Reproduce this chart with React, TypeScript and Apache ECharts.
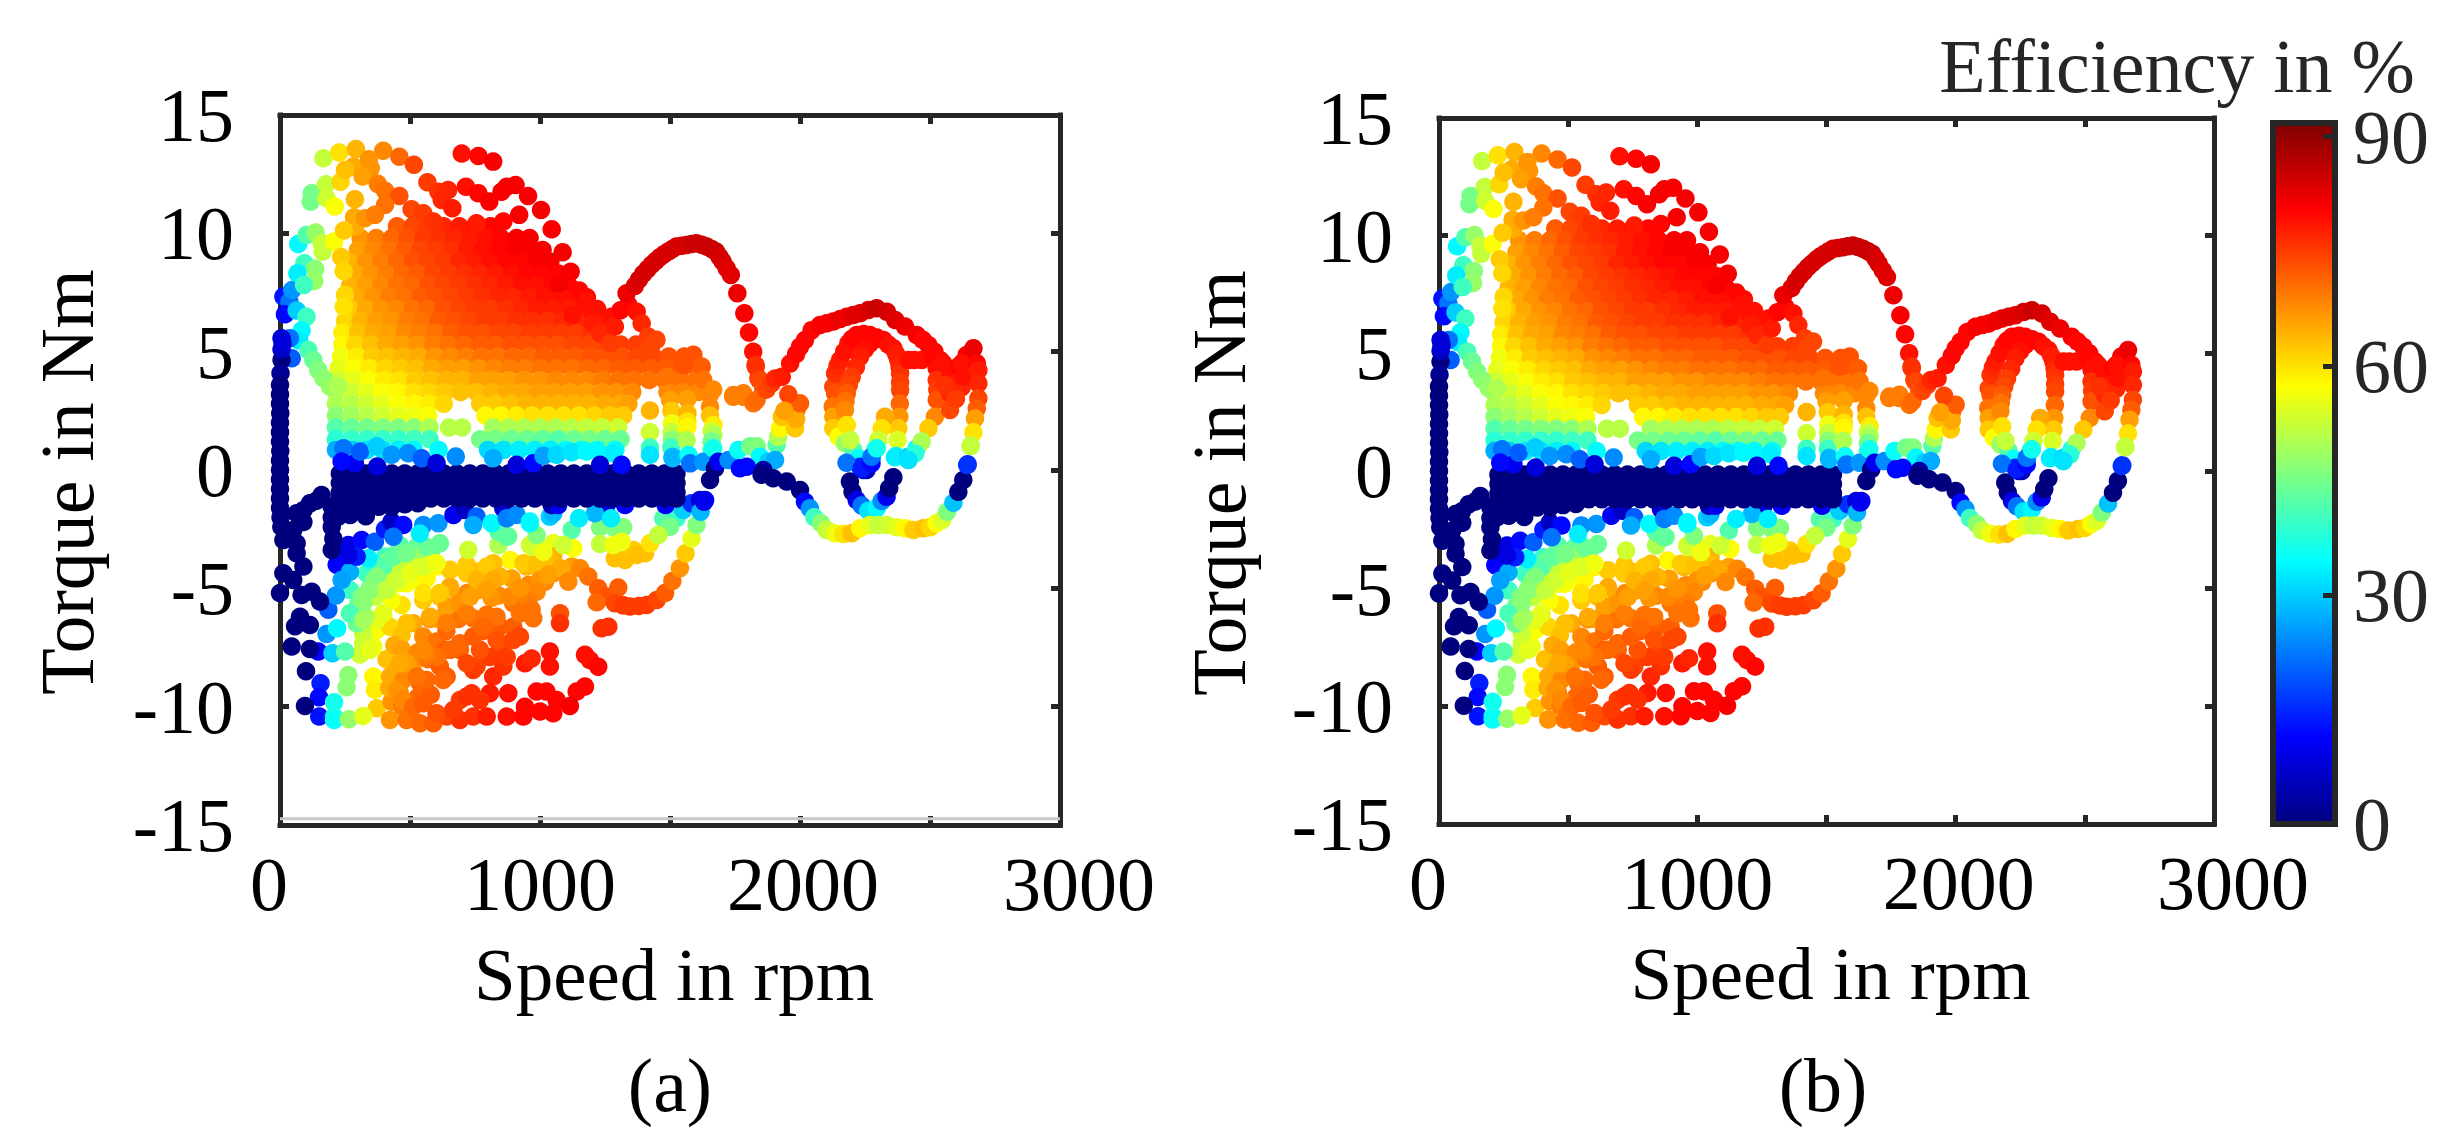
import React, { useEffect, useRef } from "react";
import * as echarts from "echarts";

type Pt = [number, number, number];
type Row = [number, number[], number[]];

const SERIF = '"Liberation Serif"';
const jetColors = ["#00007f", "#0000ff", "#007fff", "#00ffff", "#7fff7f", "#ffff00", "#ff7f00", "#ff0000", "#7f0000"];
const xTickLabels = [0, 1000, 2000, 3000];
const barTickValues = [0, 30, 60, 90];

// torque rows through the dark low-efficiency band
const navyBandTorques = [-0.15, -0.55, -0.95, -1.2];
const navyBandSpeeds = [230, 280, 330, 380, 430, 480, 530, 580, 630, 680, 730, 780, 830, 880, 930, 980, 1030, 1080, 1130, 1180, 1230, 1280, 1330, 1380, 1430, 1480, 1525];
const navyLowerExtra: Pt[] = [[230,-1.6,0],[280,-1.65,0],[330,-1.7,0],[380,-1.55,0],[430,-1.55,0],[480,-1.45,0],[530,-1.4,0],[230,-1.85,0],[270,-1.9,0],[330,-1.95,0]];

const lowSpeedColumn: Pt[] = [[6,4.65,0],[2,4.09,2],[0,3.6,0],[0,3.2,0],[0,2.8,0],[1,2.4,0],[0,2,0],[0,1.6,0],[0,1.2,0],[1,0.8,0],[0,0.4,0],[0,0,0],[0,-0.4,0],[0,-0.8,0],[0,-1.2,0],[0,-1.6,0],[2,-2,0],[5,-2.4,0],[13,-2.96,0],[51,-2.53,0],[64,-1.83,0],[64,-3.1,0],[64,-3.52,0],[90,-2.2,0],[115,-1.41,0],[160,-1.06,0],[140,-1.3,0],[90,-1.7,0],[199,-1.55,0],[199,-2.0,0],[224,-1.97,0],[199,-2.4,0],[205,-2.9,0],[199,-3.38,0],[90,-4.08,0],[13,-4.36,0],[51,-4.65,0],[0,-5.2,0],[83,-5.28,0],[122,-5.14,0],[154,-5.56,0],[77,-6.2,0],[115,-6.55,0],[58,-6.6,0],[45,-7.46,0],[115,-7.56,0],[100,-8.5,0],[96,-9.97,0],[6,5.1,6],[10,5.35,8]];

const upperLeftChain: Pt[] = [[13,7.33,13],[36,7.12,22],[47,7.61,25],[19,6.58,12],[64,6.74,30],[102,6.48,40],[83,5.89,34],[74,5.47,33],[38,5.57,22],[45,4.72,20],[6,5.57,8],[70,9.55,34],[102,9.93,42],[137,10.03,48],[160,9.58,52],[164,9.23,52],[208,9.65,57],[94,8.74,40],[135,8.5,47],[67,8.31,33],[132,7.99,48],[92,7.82,40],[122,11.69,45],[118,11.34,45],[167,13.17,52],[228,13.42,60],[292,13.56,64],[397,13.49,68],[459,13.24,71],[515,12.9,74],[699,13.37,79],[763,13.27,80],[820,13.03,81],[177,12.07,52],[179,11.48,53],[211,11.13,57],[233,12.18,61],[282,12.82,65],[250,12.68,63],[342,13.13,67],[349,12.75,67],[318,12.4,66],[288,11.44,64],[376,12.09,69],[404,11.8,70],[459,11.58,73],[404,11.2,70],[285,10.68,65],[288,10.28,65],[246,10.12,62],[327,10.64,67],[365,10.78,69],[506,11.02,74],[551,10.85,75],[590,10.5,76],[567,12.16,75],[609,11.76,76],[647,11.83,77],[622,11.41,77],[663,11.06,78],[715,11.97,79],[763,11.69,80],[805,11.34,81],[852,11.76,81],[872,11.97,81],[906,12.04,81],[954,11.58,81],[1004,10.99,81],[1045,10.17,81],[1087,9.2,81],[859,10.5,80],[920,10.78,81],[756,10.43,78],[1118,8.38,81],[1151,7.58,80],[1179,7.12,79],[1202,6.69,79],[1125,6.55,79],[1073,7.89,81],[109,5.07,41],[128,4.65,44],[147,4.23,46],[167,3.88,47],[192,3.53,48],[224,3.53,50],[235,9,62],[245,8.4,61],[250,7.4,61],[245,6.9,60]];

const blobRows: Row[] = [
  [10.3, [450,510,570,630,690,750,810], [72,74,75,77,78,79,80]],
  [9.8, [310,370,430,490,550,610,670,730,790,850,910,960], [67,69,71,73,75,76,77,78,79,80,81,81]],
  [9.3, [300,360,420,480,540,600,660,720,780,840,900,960,1010], [66,68,70,72,74,75,76,78,79,80,81,81,81]],
  [8.8, [270,330,390,450,510,570,630,690,750,810,870,930,990,1040], [64,67,69,71,73,74,75,77,78,79,80,80,81,81]],
  [8.3, [290,350,410,470,530,590,650,710,770,830,890,950,1010,1070], [65,67,69,71,72,74,75,76,77,78,79,80,80,80]],
  [7.8, [270,330,390,450,510,570,630,690,750,810,870,930,990,1050,1110], [64,66,68,70,71,73,74,75,76,77,78,79,79,80,80]],
  [7.3, [300,360,420,480,540,600,660,720,780,840,900,960,1020,1080,1140,1180], [65,67,69,70,72,73,74,75,76,77,77,78,79,79,79,80]],
  [6.8, [270,330,390,450,510,570,630,690,750,810,870,930,990,1050,1110,1170,1220], [62,65,67,68,70,71,73,74,75,75,76,77,78,78,78,79,79]],
  [6.3, [250,310,370,430,490,550,610,670,730,790,850,910,970,1030,1090,1150,1210,1270], [61,64,66,67,69,70,72,73,74,75,75,76,76,76,77,77,78,78]],
  [5.8, [240,300,360,420,480,540,600,660,720,780,840,900,960,1020,1080,1140,1200,1260], [59,63,65,66,68,69,70,72,73,73,74,74,75,75,75,75,76,76]],
  [5.3, [240,290,350,410,470,530,590,650,710,770,830,890,950,1010,1070,1130,1190,1250,1310,1370,1430], [58,61,63,65,66,67,69,70,71,72,72,73,73,73,73,74,74,74,75,75,75]],
  [4.8, [235,295,355,415,475,535,595,655,715,775,835,895,955,1015,1075,1135,1195,1255,1315,1375,1435,1495,1555], [56,59,62,63,64,65,67,68,69,70,70,71,71,72,72,72,73,73,73,74,74,73,73]],
  [4.3, [225,285,345,405,465,525,585,645,705,765,825,885,945,1005,1065,1125,1185,1245,1305,1365,1425,1485,1545,1605], [55,57,59,61,62,63,65,66,66,67,68,69,69,70,70,70,71,71,72,72,72,72,72,72]],
  [3.8, [220,280,340,400,460,520,580,640,700,760,820,880,940,1000,1060,1120,1180,1240,1300,1360,1420,1480,1540,1600], [53,55,57,59,60,62,63,64,64,66,66,66,67,67,68,68,68,69,70,70,70,70,70,70]],
  [3.3, [215,275,335,395,455,515,575,635,695,755,815,875,935,995,1055,1115,1175,1235,1295,1355,1490,1550,1610], [51,53,55,57,58,60,61,62,63,63,64,65,65,66,66,66,66,67,67,68,68,68,68]],
  [2.8, [215,275,335,395,455,515,575,630,770,830,890,950,1010,1070,1130,1190,1250,1310,1340], [50,51,53,55,57,58,59,61,62,62,63,64,64,64,64,64,65,65,66]],
  [2.3, [215,275,335,395,455,515,570,790,850,910,970,1030,1090,1150,1210,1270,1320], [47,49,51,53,55,56,57,58,58,59,60,60,60,60,61,62,62]],
  [1.8, [215,275,335,395,455,515,575,650,700,820,880,940,1000,1060,1120,1180,1240,1300], [42,44,45,46,46,47,50,51,51,49,50,50,50,50,51,52,52,53]],
  [1.3, [215,275,335,395,455,515,575,770,830,890,950,1010,1070,1130,1190,1250,1310], [38,39,39,39,39,40,40,45,45,44,44,43,42,44,45,44,44]],
  [0.85, [215,275,335,395,455,515,610,800,860,920,980,1040,1100,1160,1220,1290], [27,30,32,32,33,34,34,31,32,33,33,33,34,34,34,34]],
];

const blueEdgeUpper: Pt[] = [[244,0.92,22],[288,0.29,10],[237,0.36,12],[374,0.15,8],[308,0.78,20],[372,1,30],[429,0.64,25],[493,0.71,24],[545,0.5,20],[602,0.29,8],[676,0.57,24],[820,0.5,27],[910,0.22,8],[974,0.29,12],[1013,0.6,26],[1064,0.64,31],[1122,0.75,32],[1179,0.78,34],[1282,0.71,33],[1231,0.22,8],[1314,0.22,12],[1423,0.64,32],[1510,0.5,28],[1571,0.63,35],[1577,0.28,22],[1628,0.35,25],[1666,0.92,36],[1673,0.07,0],[1654,-0.42,0],[1635,-1.27,10],[1686,0.35,10],[1725,0.42,24],[1763,0.85,35],[1808,1,45],[1834,1,46],[1846,0.56,34],[1878,0.35,30],[1904,0.42,27],[1769,0.07,12],[1795,0.14,12],[1859,0,3],[1852,-0.2,0],[1897,-0.35,0],[1949,-0.49,0],[2000,-0.85,0],[2019,-1.34,12],[2038,-1.62,25],[2055,-2,40],[2081,-2.25,47],[2102,-2.53,52],[2134,-2.67,56],[2167,-2.7,60],[2199,-2.67,63],[2231,-2.46,58],[2269,-2.32,55],[2301,-2.32,52],[2333,-2.32,53],[2372,-2.42,55],[2404,-2.46,58],[2436,-2.53,62],[2474,-2.46,63],[2500,-2.42,61],[2525,-2.25,57],[2547,-2.11,54],[2566,-1.76,46],[2590,-1.38,29],[2609,-0.92,0],[2628,-0.42,0],[2643,0.21,16],[2656,1.01,52]];

const humpCurve: Pt[] = [[1205,6.2,78],[1231,5.78,77],[1269,5.36,75],[1275,6.48,79],[1288,6.06,78],[1310,6.75,80],[1340,6.98,80],[1372,6.69,79],[1391,6.2,77],[1416,5.64,75],[1448,5.5,74],[1423,5.2,74],[1333,7.47,82],[1365,7.78,83],[1381,8.05,84],[1397,8.29,84],[1413,8.48,84],[1429,8.67,84],[1445,8.83,84],[1461,8.99,84],[1477,9.12,84],[1493,9.23,84],[1509,9.34,84],[1525,9.44,84],[1545,9.48,84],[1564,9.51,84],[1583,9.55,85],[1602,9.58,85],[1622,9.52,85],[1641,9.44,85],[1660,9.34,85],[1677,9.23,85],[1690,9.02,84],[1702,8.81,84],[1718,8.52,83],[1734,8.24,83],[1759,7.47,82],[1786,6.62,81],[1804,5.81,80],[1820,5,79],[1829,4.44,76],[1840,3.88,75]];

const midChain: Pt[] = [[1590,4.87,73],[1551,4.44,73],[1622,4.37,72],[1628,3.81,70],[1666,3.4,68],[1743,3.1,69],[1782,3.1,69],[1782,3.24,69],[1744,3.17,69],[1821,2.82,70],[1830,4.37,76],[1844,3.8,74],[1859,3.38,73],[1833,2.96,71],[1871,3.4,74],[1891,3.66,75],[1904,3.87,77],[1930,3.94,78],[1962,4.5,79],[1985,4.9,80],[2000,5.21,80],[2019,5.49,80],[2045,5.91,80],[2077,6.13,81],[2103,6.2,81],[2128,6.27,81],[2155,6.38,82],[2180,6.48,82],[2205,6.55,83],[2231,6.62,83],[2263,6.76,84],[2295,6.83,85],[2334,6.69,84],[2366,6.34,83],[2404,6.06,82],[2449,5.7,81],[2472,5.5,80],[2494,5.28,80],[2517,5,80],[2539,4.65,80]];

const columnDots: Pt[] = [[1423,2.51,64],[1423,1.6,53],[1423,0.95,40],[1487,3.94,70],[1500,3.24,68],[1500,2.96,66],[1505,2.5,62],[1507,1.97,56],[1507,1.6,52],[1507,1.27,47],[1505,0.95,40],[1510,0.56,29],[1567,3,66],[1567,2.4,64],[1567,2.05,60],[1567,1.83,58],[1564,1.27,50],[1654,3.2,68],[1654,2.67,68],[1654,2.3,63],[1667,1.9,59],[1660,1.65,53],[1667,1.48,50],[1660,1.2,45],[1660,0.84,40],[1910,1.06,42],[1916,1.4,50],[1923,1.76,58],[1930,2.25,63],[1968,2.82,72],[1987,2.53,69],[1981,1.76,62],[1985,2.15,65],[2000,2.82,72],[1955,3.2,74],[1940,2.5,66]];

const rightLoops: Pt[] = [[2128,3.52,74],[2135,3.24,73],[2126,2.68,70],[2128,2.25,66],[2128,1.76,62],[2148,1.41,57],[2173,1.13,48],[2205,0.85,42],[2225,0.5,35],[2135,4.08,76],[2144,4.4,77],[2154,4.65,78],[2170,5,79],[2186,5.35,79],[2200,5.55,80],[2218,5.7,80],[2245,5.75,80],[2269,5.7,80],[2295,5.6,80],[2321,5.49,80],[2340,5.3,79],[2359,5.14,79],[2370,4.9,78],[2378,4.65,78],[2383,4.35,77],[2385,4.08,76],[2385,3.7,75],[2385,3.38,74],[2384,2.8,71],[2382,2.25,67],[2378,1.76,62],[2375,1.27,54],[2369,0.59,33],[2269,5.35,80],[2250,5.1,79],[2231,4.79,78],[2215,4.35,77],[2199,3.94,75],[2188,3.6,74],[2180,3.24,72],[2175,2.9,70],[2173,2.54,68],[2180,1.9,60],[2193,1.27,52],[2327,2.25,65],[2314,1.76,60],[2301,1.27,53],[2289,0.85,40],[2276,0.5,30],[2244,0,8],[2263,0.21,8],[2231,0.14,15],[2179,0.31,22],[2192,-0.49,0],[2202,-0.92,0],[2218,-1.27,9],[2237,-1.5,22],[2263,-1.72,32],[2295,-1.62,34],[2314,-1.31,24],[2333,-1.13,10],[2343,-0.77,0],[2359,-0.31,0],[2365,0.54,33],[2256,0,6],[2237,0.07,14],[2275,0.28,12],[2275,0.56,22],[2295,0.92,36],[2416,0.56,31],[2449,0.92,36],[2417,4.65,79],[2440,4.65,79],[2468,4.65,79],[2513,4.79,80],[2526,4.3,79],[2526,3.8,76],[2528,3.4,75],[2526,2.96,73],[2519,2.25,68],[2494,1.76,62],[2468,1.2,50],[2443,0.7,38],[2417,0.42,32],[2577,2.54,74],[2577,3.24,77],[2577,3.94,79],[2551,4.51,79],[2609,4.37,80],[2641,4.86,81],[2667,5.14,82],[2622,4.51,79],[2680,4.51,80],[2603,3.66,78],[2622,3.5,77],[2629,3.94,79],[2555,3.6,76],[2600,3,75],[2686,4.22,78],[2686,3.66,77],[2686,3.03,74],[2680,2.6,72],[2673,2.18,66],[2667,1.59,60],[2657,1.03,50],[2645,0.24,16]];

const lowerLeftDots: Pt[] = [[186,-5.9,20],[218,-4,11],[215,-5.3,25],[147,-7.67,11],[179,-6.93,25],[220,-6.69,34],[202,-7.74,30],[250,-7.67,42],[156,-9.01,14],[150,-9.6,12],[151,-10.42,13],[208,-9.81,36],[208,-10.42,36],[208,-10.56,35],[265,-10.53,48],[320,-10.39,55],[263,-8.66,47],[256,-9.18,47]];

const lowerBlueBand: Pt[] = [[263,-3.17,9],[314,-2.96,12],[365,-3.03,20],[404,-2.5,14],[429,-2.18,6],[474,-2.32,12],[551,-2.32,24],[609,-2.25,25],[667,-1.9,10],[711,-1.69,6],[756,-1.97,20],[743,-2.32,27],[814,-2.25,34],[859,-1.62,8],[872,-2.04,23],[910,-1.9,24],[961,-2.18,34],[1051,-1.83,28],[1045,-1.48,5],[269,-4.3,27],[340,-3.73,33],[237,-4.65,26],[295,-3.66,14],[263,-3.59,9],[436,-2.82,22],[538,-2.68,33],[1070,-1.48,10],[1256,-1.48,8],[1327,-1.48,11],[1483,-1.48,11],[1211,-1.83,28],[1273,-2.04,33],[1150,-2.04,33],[1551,-1.69,30],[1583,-1.41,16],[1615,-1.27,8],[1618,-1.76,28],[1631,-1.34,10]];

const lowerGreenBand: Pt[] = [[269,-5.07,40],[333,-4.36,40],[404,-3.66,40],[461,-3.17,42],[526,-3.24,44],[615,-3.1,44],[583,-3.38,44],[288,-6.05,46],[314,-5.35,46],[359,-4.72,47],[417,-3.87,47],[487,-3.66,47],[551,-3.52,48],[300,-5.7,44],[345,-5,44],[385,-4.3,44],[440,-3.6,45],[320,-6.9,52],[308,-7.8,53],[365,-5.35,52],[429,-4.5,53],[500,-4,54],[590,-3.94,56],[724,-3.38,53],[840,-3.17,50],[878,-2.8,45],[840,-2.6,43],[330,-6.2,50],[395,-5,50],[465,-4.2,52],[872,-2.82,43],[1231,-2.42,46],[1288,-2.46,46],[1320,-2.42,46],[1231,-3.13,52],[1282,-3.17,56],[1314,-3.03,56],[1128,-3.31,57],[1122,-2.53,42],[1090,-3.17,53],[968,-3.24,53],[1013,-3.45,56],[987,-2.75,46],[961,-2.25,34],[1038,-1.97,30],[1474,-2.04,42],[1525,-2.04,40],[1500,-2.4,45],[1455,-2.75,52],[359,-3.94,38],[397,-4.08,42],[436,-3.66,43],[487,-3.52,45],[564,-3.24,44],[372,-4.5,46],[346,-5.07,47],[320,-5.63,47],[295,-6.48,44],[269,-6.05,41],[320,-6.34,49],[320,-7.32,53],[346,-7.6,55],[410,-5.07,52],[449,-4.65,53],[500,-4.36,55],[551,-4.08,54],[602,-3.94,56]];

const lowerWarmBand: Pt[] = [[397,-6.2,57],[359,-7.46,56],[487,-4.79,57],[538,-4.65,57],[602,-4.08,58],[564,-4.58,58],[372,-6.76,57],[885,-3.8,58],[961,-3.17,53],[1006,-3.45,57],[1051,-3.52,60],[987,-3.17,52],[1051,-3.1,55],[423,-6.62,61],[468,-5.7,60],[359,-8.73,58],[365,-9.29,59],[372,-10.07,62],[551,-5.49,62],[654,-4.22,62],[718,-4,62],[756,-4.3,63],[820,-3.94,63],[949,-4.08,64],[974,-3.94,63],[1051,-3.66,64],[1288,-3.73,63],[1327,-3.8,63],[1359,-3.38,62],[1372,-3.59,63],[1404,-3.52,63],[1423,-3.1,60],[410,-8,63],[468,-6.97,63],[513,-6.48,65],[513,-8.17,67],[423,-8.73,65],[449,-8.45,65],[429,-9.79,67],[423,-10.56,67],[615,-5.35,63],[686,-5.49,65],[654,-4.93,65],[763,-5.07,66],[820,-4.72,66],[891,-4.58,66],[955,-4.86,68],[1019,-4.72,68],[1051,-4.36,68],[609,-6.3,66],[551,-7.04,68],[474,-8.87,68],[440,-7.4,65],[470,-7.6,66],[420,-9.2,65],[460,-9.4,68],[470,-10,69],[650,-5.9,68],[720,-5.2,68],[840,-5.3,68],[602,-7.25,70],[538,-9.01,71],[500,-10.14,70],[487,-10.56,70],[538,-10.7,71],[590,-10.7,72],[577,-6.3,67],[686,-6.3,70],[743,-6.26,70],[692,-7.6,72],[974,-6.26,70],[923,-5.77,70],[897,-5.63,70],[814,-5.4,67],[795,-6.12,70],[530,-7.7,68],[570,-8,70],[640,-6.8,71],[780,-6.8,72],[530,-9.6,71],[580,-9.5,72],[640,-7.6,72],[756,-8.3,74],[846,-6.62,72],[897,-6.62,72],[846,-7.46,74],[782,-7.9,74],[615,-8.3,72],[641,-8.73,72],[743,-8.45,75],[692,-9.72,75],[641,-10.42,74],[692,-10.56,76],[743,-10.42,76],[795,-10.42,78],[820,-8.73,77],[859,-8.3,76],[807,-9.43,78],[737,-9.43,76],[769,-9.72,76],[564,-8.87,71],[923,-7.04,74],[878,-9.43,79],[942,-8.17,78],[968,-7.96,77],[1038,-7.67,79],[1038,-8.3,79],[1077,-6.05,73],[1077,-6.47,76],[872,-10.42,79],[936,-10.42,80],[987,-9.36,80],[1025,-9.36,80],[1051,-10.28,80],[1000,-10.2,80],[942,-10,80],[1237,-6.69,76],[1263,-6.62,76],[1173,-7.81,79],[1192,-8.03,79],[1224,-8.31,80],[1141,-9.36,80],[1173,-9.15,80],[1064,-9.72,80],[1115,-9.97,81],[461,-4.79,56],[429,-5.49,57],[397,-6.05,55],[372,-6.34,55],[551,-5.2,60],[487,-6.48,63],[577,-6.2,65],[641,-5.77,66],[692,-5.63,67],[718,-6.05,69],[641,-6.48,69],[615,-5.2,62],[718,-4.36,62],[795,-4.08,62],[846,-4.5,64],[936,-3.94,62],[987,-4.08,63],[1038,-3.94,63],[756,-4.65,64],[820,-4.65,65],[795,-5.07,66],[731,-5.35,66],[885,-5.35,68],[949,-5.2,68],[1000,-4.65,67],[487,-8.17,66],[461,-8.17,65],[526,-8.73,70],[449,-9.29,67],[474,-9.72,68],[513,-10,71],[551,-9.86,72],[602,-10.28,73],[667,-10.14,75],[718,-9.57,76],[628,-8.87,71],[718,-8.17,74],[807,-7.9,75],[833,-7.18,73],[897,-7.18,74],[872,-7.9,75],[769,-7.6,73],[654,-7.6,71],[692,-7.32,71],[602,-7.9,70],[564,-7.75,69],[551,-7.6,68],[743,-7.04,72],[833,-6.2,70],[782,-6.62,71]];

const lowerArc: Pt[] = [[1122,-4.08,66],[1077,-4.15,65],[1032,-4.43,66],[987,-5.14,68],[955,-5.56,69],[923,-5,67],[968,-5.9,70],[923,-6.05,70],[1109,-4.72,68],[1154,-4.15,68],[1186,-4.5,70],[1224,-5,72],[1256,-5.35,73],[1301,-4.97,72],[1218,-5.59,71],[1288,-5.63,74],[1320,-5.72,75],[1346,-5.77,75],[1380,-5.75,75],[1410,-5.7,75],[1449,-5.49,74],[1481,-5.2,72],[1509,-4.69,70],[1538,-4.15,67],[1560,-3.52,62],[1583,-2.89,55],[1602,-2.32,46]];

function expandRows(rows: Row[]): Pt[] {
  const out: Pt[] = [];
  rows.forEach(([t, speeds, effs]) => speeds.forEach((s, i) => out.push([s, t, effs[i]])));
  return out;
}

function expandNavy(): Pt[] {
  const out: Pt[] = [];
  navyBandTorques.forEach((t) => navyBandSpeeds.forEach((s) => out.push([s, t, 0])));
  return out;
}

const allPoints: Pt[] = [
  ...expandRows(blobRows),
  ...upperLeftChain,
  ...humpCurve,
  ...midChain,
  ...columnDots,
  ...rightLoops,
  ...lowerWarmBand,
  ...lowerArc,
  ...lowerGreenBand,
  ...lowerLeftDots,
  ...lowerBlueBand,
  ...expandNavy(),
  ...navyLowerExtra,
  ...lowSpeedColumn,
  ...blueEdgeUpper,
];

const FRAME = "#262626";
const frameLine = { show: true, onZero: false, lineStyle: { color: FRAME, width: 5, cap: "square" } };
const tick = { show: true, inside: true, length: 9, lineStyle: { color: FRAME, width: 5 } };
const FS = 76;
const DOT = 18.5;

function panelAxes(gridIndex: number, yNameGap: number) {
  const x = {
    gridIndex, type: "value", min: 0, max: 3000, interval: 500, axisLine: frameLine, axisTick: tick, splitLine: { show: false },
  };
  const y = {
    gridIndex, type: "value", min: -15, max: 15, interval: 5, axisLine: frameLine, axisTick: tick, splitLine: { show: false },
  };
  const rt = { fontFamily: SERIF, fontSize: FS, color: "#000" };
  return {
    xAxes: [
      {
        ...x, position: "bottom", name: "Speed in rpm", nameLocation: "middle", nameGap: 112,
        nameTextStyle: { fontFamily: SERIF, fontSize: 75, color: "#000", padding: [0, 0, 0, 8] },
        axisLabel: {
          customValues: xTickLabels, margin: 21, ...rt,
          formatter: (v: number) => (v === 0 ? "{z|0}" : v === 2000 ? "{t|2000}" : v === 3000 ? "{e|3000}" : String(v)),
          rich: {
            z: { ...rt, padding: [0, 22, 0, 0] },
            t: { ...rt, padding: [0, 0, 0, 6] },
            e: { ...rt, padding: [0, 0, 0, 38] },
          },
        },
      },
      { ...x, position: "top", axisLabel: { show: false } },
    ],
    yAxes: [
      {
        ...y, position: "left", name: "Torque in Nm", nameLocation: "middle", nameGap: yNameGap, nameRotate: 90,
        nameTextStyle: { fontFamily: SERIF, fontSize: FS, color: "#000", padding: [0, 24, 0, 0] },
        axisLabel: { margin: 46, ...rt },
      },
      { ...y, position: "right", axisLabel: { show: false } },
    ],
  };
}

export default function App() {
  const ref = useRef<HTMLDivElement>(null);
  useEffect(() => {
    if (!ref.current) return;
    const chart = echarts.init(ref.current, undefined, { renderer: "svg" });
    const a = panelAxes(0, 175);
    const b = panelAxes(1, 182);
    const barFrame = { show: true, onZero: false, lineStyle: { color: FRAME, width: 6, cap: "square" } };
    const gradient = new echarts.graphic.LinearGradient(
      0, 1, 0, 0,
      jetColors.map((color, i) => ({ offset: i / (jetColors.length - 1), color })),
    );
    const textStyle = (fill: string) => ({ font: `${FS}px ${SERIF}`, fill, align: "center", verticalAlign: "middle", lineHeight: 60 });
    const scatterBase = { type: "scatter", data: allPoints, symbolSize: DOT, clip: false, silent: true, z: 3, itemStyle: { opacity: 1 } };
    chart.setOption({
      animation: false,
      backgroundColor: "#fff",
      grid: [
        { left: 280, top: 115, width: 780, height: 710 },
        { left: 1439, top: 118, width: 775, height: 706 },
        { left: 2273, top: 123, width: 62, height: 701 },
      ],
      xAxis: [
        ...a.xAxes,
        ...b.xAxes,
        { gridIndex: 2, type: "category", data: [""], position: "bottom", z: 5, axisLine: barFrame, axisTick: { show: false }, axisLabel: { show: false } },
        { gridIndex: 2, type: "category", data: [""], position: "top", z: 5, axisLine: barFrame, axisTick: { show: false }, axisLabel: { show: false } },
      ],
      yAxis: [
        ...a.yAxes,
        ...b.yAxes,
        { gridIndex: 2, type: "value", min: 0, max: 91.8, position: "left", z: 5, axisLine: barFrame, axisTick: { show: false }, axisLabel: { show: false }, splitLine: { show: false } },
        {
          gridIndex: 2, type: "value", min: 0, max: 91.8, position: "right", z: 5, axisLine: barFrame, splitLine: { show: false },
          axisTick: { show: true, inside: true, length: 12, customValues: barTickValues, lineStyle: { color: FRAME, width: 5 } },
          axisLabel: { customValues: barTickValues, margin: 18, fontFamily: SERIF, fontSize: FS, color: FRAME, lineHeight: 60 },
        },
      ],
      visualMap: {
        show: false, type: "continuous", min: 0, max: 91.8, dimension: 2, seriesIndex: [0, 1],
        inRange: { color: jetColors },
      },
      series: [
        { ...scatterBase, xAxisIndex: 0, yAxisIndex: 0 },
        { ...scatterBase, xAxisIndex: 2, yAxisIndex: 2 },
        {
          type: "line", xAxisIndex: 0, yAxisIndex: 0, data: [[0, -14.74], [3000, -14.74]], symbol: "none", silent: true, z: 1,
          lineStyle: { color: "#c8c8c8", width: 3 },
        },
        {
          type: "bar", xAxisIndex: 4, yAxisIndex: 4, data: [91.8], barWidth: "100%", silent: true, z: 2,
          itemStyle: { color: gradient },
        },
      ],
      graphic: [
        { type: "text", x: 670, y: 1085, style: { ...textStyle("#000000"), text: "(a)" } },
        { type: "text", x: 1823, y: 1085, style: { ...textStyle("#000000"), text: "(b)" } },
        { type: "text", x: 2177, y: 66, style: { ...textStyle(FRAME), text: "Efficiency in %" } },
      ],
    });
    return () => chart.dispose();
  }, []);
  return <div ref={ref} style={{ position: "fixed", left: 0, top: 0, width: 2455, height: 1141 }} />;
}
